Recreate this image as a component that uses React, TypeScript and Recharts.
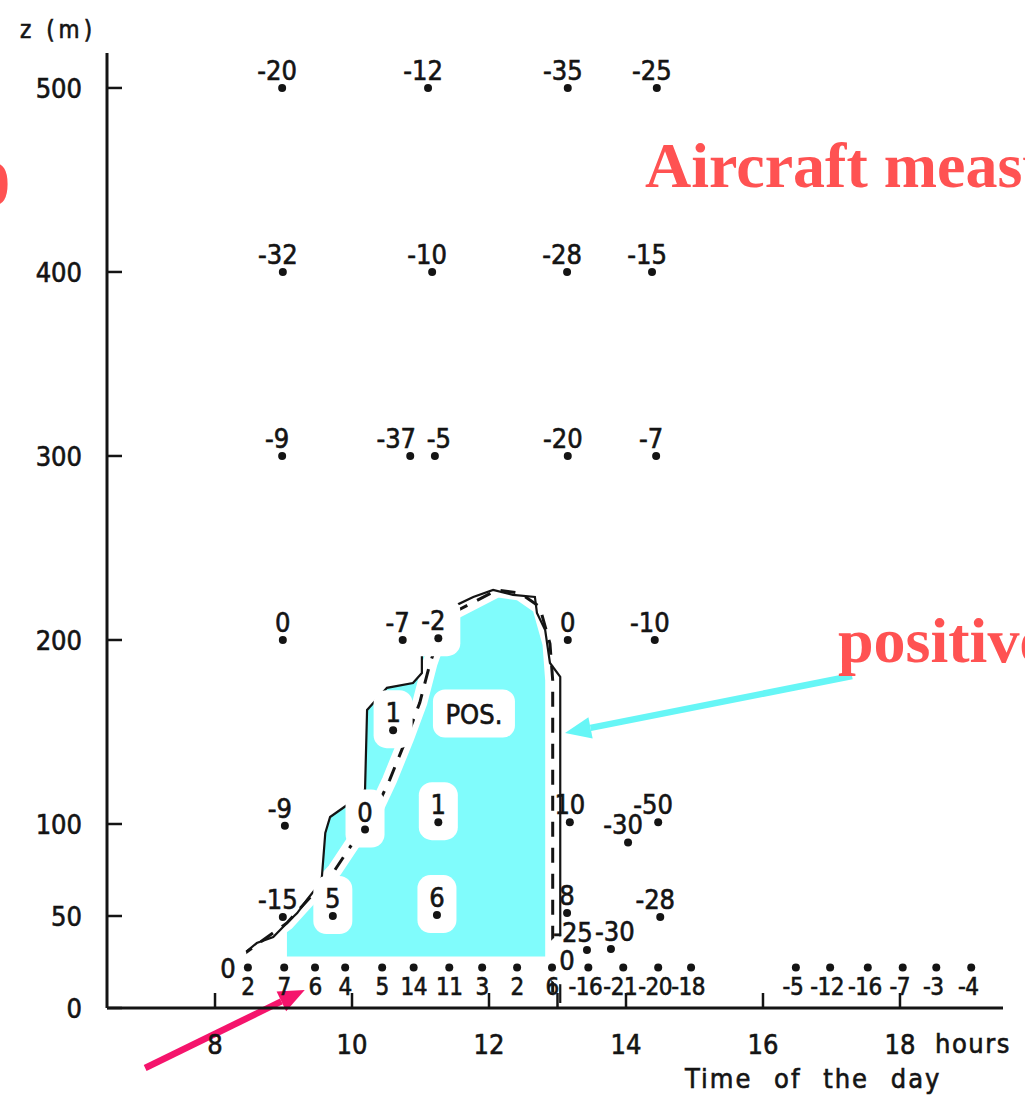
import {
  ComposedChart,
  XAxis,
  YAxis,
  Area,
  Line,
  Scatter,
  ReferenceLine,
} from "recharts";

const FONT = '"DejaVu Sans Condensed", "DejaVu Sans", sans-serif';
const INK = "#141414";
const POS_FILL = "#80fcfc";
const RED = "#ff5252";

type Obs = { t: number; z: number; v: string };
type Pt = { t: number; z: number };

// aircraft flux soundings: time (h), height (m), value
const aircraftObs: Obs[] = [
  { t: 8.98, z: 500, v: "-20" },
  { t: 11.11, z: 500, v: "-12" },
  { t: 13.15, z: 500, v: "-35" },
  { t: 14.45, z: 500, v: "-25" },
  { t: 8.99, z: 400, v: "-32" },
  { t: 11.17, z: 400, v: "-10" },
  { t: 13.14, z: 400, v: "-28" },
  { t: 14.38, z: 400, v: "-15" },
  { t: 8.98, z: 300, v: "-9" },
  { t: 10.85, z: 300, v: "-37" },
  { t: 11.21, z: 300, v: "-5" },
  { t: 13.15, z: 300, v: "-20" },
  { t: 14.44, z: 300, v: "-7" },
  { t: 8.99, z: 200, v: "0" },
  { t: 10.74, z: 200, v: "-7" },
  { t: 11.26, z: 201, v: "-2" },
  { t: 13.15, z: 200, v: "0" },
  { t: 14.42, z: 200, v: "-10" },
  { t: 10.6, z: 151, v: "1" },
  { t: 9.02, z: 99, v: "-9" },
  { t: 10.19, z: 97, v: "0" },
  { t: 11.26, z: 101, v: "1" },
  { t: 13.18, z: 101, v: "10" },
  { t: 14.03, z: 90, v: "-30" },
  { t: 14.47, z: 101, v: "-50" },
  { t: 8.99, z: 49.5, v: "-15" },
  { t: 9.72, z: 50, v: "5" },
  { t: 11.24, z: 50.5, v: "6" },
  { t: 13.14, z: 51.6, v: "8" },
  { t: 14.5, z: 49.5, v: "-28" },
  { t: 13.43, z: 31.5, v: "-25" },
  { t: 13.78, z: 32, v: "-30" },
];

// tower level readings
const towerHeight = 22;
const towerTimes = [
  8.48, 9.01, 9.46, 9.9, 10.44, 10.9, 11.42, 11.9, 12.41, 12.92, 13.45, 13.96,
  14.47, 14.95, 16.48, 16.98, 17.53, 18.04, 18.53, 19.04,
];
const towerValues = [
  "2", "7", "6", "4", "5", "14", "11", "3", "2", "6", "-16", "-21", "-20",
  "-18", "-5", "-12", "-16", "-7", "-3", "-4",
];
const towerObs: Obs[] = towerTimes.map((t, i) => ({
  t,
  z: towerHeight,
  v: towerValues[i],
}));

// outer edge of the positive-flux region (solid line)
const solidEdge: Pt[] = [
  { t: 8.36, z: 27.7 },
  { t: 8.61, z: 35.3 },
  { t: 8.85, z: 38.6 },
  { t: 9.05, z: 46.2 },
  { t: 9.2, z: 51.6 },
  { t: 9.34, z: 58.7 },
  { t: 9.49, z: 65.8 },
  { t: 9.56, z: 71.2 },
  { t: 9.61, z: 95.1 },
  { t: 9.68, z: 103.8 },
  { t: 9.97, z: 111.4 },
  { t: 10.19, z: 118.5 },
  { t: 10.22, z: 162 },
  { t: 10.51, z: 174 },
  { t: 10.89, z: 176.6 },
  { t: 11.02, z: 182 },
  { t: 11.02, z: 205.4 },
  { t: 11.18, z: 214.7 },
  { t: 11.47, z: 218 },
  { t: 11.77, z: 223.4 },
  { t: 12.06, z: 227.2 },
  { t: 12.35, z: 224.5 },
  { t: 12.67, z: 223.4 },
  { t: 12.7, z: 214.7 },
  { t: 12.82, z: 205.4 },
  { t: 12.89, z: 187.5 },
  { t: 13.04, z: 180 },
  { t: 13.04, z: 2.7 },
];

// shaded part starts where the edge clears the tower level
const fillEdge: Pt[] = solidEdge.slice(3, solidEdge.length - 1);
const fillBase = 28;

// dashed zero-flux boundary
const dashedEdge: Pt[] = [
  { t: 8.36, z: 27.7 },
  { t: 9.05, z: 46.2 },
  { t: 9.75, z: 75 },
  { t: 10.07, z: 93 },
  { t: 10.36, z: 109 },
  { t: 10.55, z: 124 },
  { t: 10.8, z: 147 },
  { t: 10.99, z: 166 },
  { t: 11.14, z: 187.5 },
  { t: 11.31, z: 205.4 },
  { t: 11.47, z: 214.7 },
  { t: 12.12, z: 227.2 },
  { t: 12.45, z: 225.5 },
  { t: 12.74, z: 218 },
  { t: 12.89, z: 198 },
  { t: 12.93, z: 178 },
  { t: 12.93, z: 2.7 },
];

const textMarks: Obs[] = [
  { t: 11.78, z: 160, v: "POS." },
  { t: 8.19, z: 22, v: "0" },
  { t: 13.14, z: 26, v: "0" },
];

const yTicks = [0, 50, 100, 200, 300, 400, 500];
const yTicksRight = [100, 200, 300, 400, 500];
const xTicks = [8, 10, 12, 13, 14, 16, 18];

const X_DOMAIN: [number, number] = [6.423, 19.504];
const Y_DOMAIN: [number, number] = [0, 519];

// nudge a label away from a close neighbour on the same level
function labelShift(o: Obs, all: Obs[]) {
  let dx = o.v.startsWith("-") ? -5 : 0;
  for (const n of all) {
    if (n === o || Math.abs(n.z - o.z) > 5) continue;
    const dt = n.t - o.t;
    if (dt > 0 && dt < 0.45) dx -= 9;
    if (dt < 0 && dt > -0.45) dx += 9;
  }
  return dx;
}

// white patches around the labels sitting inside the shaded area
const haloObs = aircraftObs.filter((o) => o.z < 240 && o.t > 9.5 && o.t < 12.9);

const labelText = {
  fontFamily: FONT,
  fill: INK,
  stroke: INK,
  strokeWidth: 0.6,
};

function Halo(props: any) {
  const { cx, cy, payload } = props;
  const w = payload.v.length * 15 + 24;
  return (
    <rect
      x={cx + labelShift(payload, aircraftObs) - w / 2}
      y={cy - 40}
      width={w}
      height={58}
      rx={13}
      fill="#fff"
    />
  );
}

function ObsMark(props: any) {
  const { cx, cy, payload } = props;
  return (
    <g>
      <circle cx={cx} cy={cy} r={4} fill={INK} />
      <text
        x={cx + labelShift(payload, aircraftObs)}
        y={cy - 8}
        textAnchor="middle"
        fontSize={27}
        {...labelText}
      >
        {payload.v}
      </text>
    </g>
  );
}

function TowerMark(props: any) {
  const { cx, cy, payload } = props;
  return (
    <g>
      <circle cx={cx} cy={cy} r={4} fill={INK} />
      <text
        x={cx + (payload.v.startsWith("-") ? -3 : 0)}
        y={cy + 27}
        textAnchor="middle"
        fontSize={24}
        letterSpacing={-0.5}
        {...labelText}
      >
        {payload.v}
      </text>
    </g>
  );
}

function TextMark(props: any) {
  const { cx, cy, payload } = props;
  const w = payload.v.length * 15 + 22;
  return (
    <g>
      <rect x={cx - w / 2} y={cy - 24} width={w} height={48} rx={12} fill="#fff" />
      <text x={cx} y={cy + 10} textAnchor="middle" fontSize={27} {...labelText}>
        {payload.v}
      </text>
    </g>
  );
}

function arrow(color: string, width: number, head: number) {
  return (p: any) => {
    const { x1, y1, x2, y2 } = p;
    const a = Math.atan2(y2 - y1, x2 - x1);
    const bx = x2 - head * Math.cos(a);
    const by = y2 - head * Math.sin(a);
    const nx = -Math.sin(a) * head * 0.42;
    const ny = Math.cos(a) * head * 0.42;
    return (
      <g>
        <line x1={x1} y1={y1} x2={bx} y2={by} stroke={color} strokeWidth={width} />
        <polygon
          points={`${x2},${y2} ${bx + nx},${by + ny} ${bx - nx},${by - ny}`}
          fill={color}
        />
      </g>
    );
  };
}

const axisStroke = { stroke: INK, strokeWidth: 3 };
const tickText = {
  fontSize: 27,
  fill: INK,
  fontFamily: FONT,
  stroke: INK,
  strokeWidth: 0.6,
};

export default function App() {
  return (
    <div
      style={{
        position: "absolute",
        left: 0,
        top: 0,
        width: 1025,
        height: 1102,
        background: "#fff",
        overflow: "hidden",
      }}
    >
      <ComposedChart
        width={1025}
        height={1102}
        data={fillEdge}
        margin={{ top: 53, right: 22, bottom: 0, left: 0 }}
      >
        <XAxis
          dataKey="t"
          type="number"
          domain={X_DOMAIN}
          allowDataOverflow
          ticks={xTicks}
          interval={0}
          height={94}
          tickSize={-15}
          tickMargin={42}
          tickFormatter={(v: number) => (v === 13 ? "" : String(v))}
          tick={tickText}
          axisLine={axisStroke}
          tickLine={{ stroke: INK, strokeWidth: 2.5 }}
        />
        <XAxis
          xAxisId="top"
          orientation="top"
          type="number"
          domain={X_DOMAIN}
          allowDataOverflow
          height={0}
          tick={false}
          tickLine={false}
          axisLine={axisStroke}
        />
        <YAxis
          dataKey="z"
          type="number"
          domain={Y_DOMAIN}
          allowDataOverflow
          ticks={yTicks}
          interval={0}
          width={107}
          tickSize={-15}
          tickMargin={40}
          tick={tickText}
          axisLine={axisStroke}
          tickLine={{ stroke: INK, strokeWidth: 2.5 }}
        />
        <YAxis
          yAxisId="r"
          orientation="right"
          type="number"
          domain={Y_DOMAIN}
          allowDataOverflow
          ticks={yTicksRight}
          interval={0}
          width={0}
          tickSize={-15}
          tick={() => <g />}
          axisLine={axisStroke}
          tickLine={{ stroke: INK, strokeWidth: 2.5 }}
        />

        <Area
          dataKey="z"
          type="linear"
          baseValue={fillBase}
          fill={POS_FILL}
          fillOpacity={1}
          stroke="none"
          isAnimationActive={false}
        />
        <Line
          data={dashedEdge}
          dataKey="z"
          type="linear"
          stroke="#fff"
          strokeWidth={15}
          dot={false}
          isAnimationActive={false}
        />
        <Scatter data={haloObs} shape={Halo} isAnimationActive={false} />
        <Line
          data={solidEdge}
          dataKey="z"
          type="linear"
          stroke={INK}
          strokeWidth={2.2}
          dot={false}
          isAnimationActive={false}
        />
        <Line
          data={dashedEdge}
          dataKey="z"
          type="linear"
          stroke={INK}
          strokeWidth={3}
          strokeDasharray="15 11"
          dot={false}
          isAnimationActive={false}
        />
        <Scatter data={textMarks} shape={TextMark} isAnimationActive={false} />
        <Scatter data={aircraftObs} shape={ObsMark} isAnimationActive={false} />
        <Scatter data={towerObs} shape={TowerMark} isAnimationActive={false} />

        <ReferenceLine
          segment={[
            { x: 17.3, y: 180.4 },
            { x: 13.11, y: 149.5 },
          ]}
          ifOverflow="visible"
          shape={arrow("#66f6f6", 6.5, 26)}
        />
        <ReferenceLine
          segment={[
            { x: 6.98, y: -32.6 },
            { x: 9.31, y: 9.8 },
          ]}
          ifOverflow="visible"
          shape={arrow("#f5146c", 6.5, 26)}
        />
      </ComposedChart>

      <svg
        width={1025}
        height={1102}
        style={{ position: "absolute", left: 0, top: 0, pointerEvents: "none" }}
      >
        <g fontFamily={FONT} fill={INK} stroke={INK} strokeWidth={0.6}>
          <text x={20} y={38} fontSize={24} letterSpacing={4}>
            z (m)
          </text>
          <text x={935} y={1053} fontSize={27} letterSpacing={1.5}>
            hours
          </text>
          <text x={685} y={1088} fontSize={27} wordSpacing={12} letterSpacing={2}>
            Time of the day
          </text>
        </g>
        <g
          fontFamily='"Liberation Serif", "Times New Roman", serif'
          fontWeight="bold"
          fill={RED}
        >
          <text x={645} y={187} fontSize={64}>
            Aircraft measurements
          </text>
          <text x={838} y={662} fontSize={64}>
            positive flux
          </text>
          <text x={-22} y={205} fontSize={64}>
            0
          </text>
        </g>
      </svg>
    </div>
  );
}
